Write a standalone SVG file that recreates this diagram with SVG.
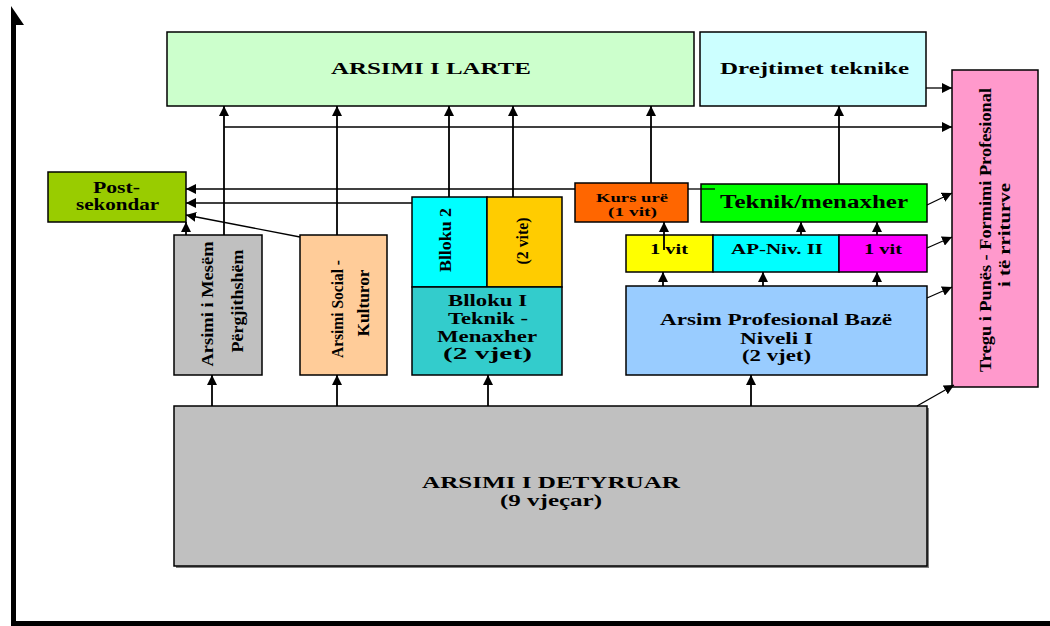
<svg xmlns="http://www.w3.org/2000/svg" width="1050" height="626" viewBox="0 0 1050 626">
<style>
.box{stroke:#000;stroke-width:1.5}
.t{font-family:"Liberation Serif","Times New Roman",serif;font-weight:bold;fill:#000}
.c{stroke:#000;stroke-width:1.8;fill:none;marker-end:url(#ah)}
.h{stroke:#000;stroke-width:1.3;fill:none;marker-end:url(#ah)}
.p{stroke:#000;stroke-width:1.3;fill:none}
</style>
<defs>
<marker id="ah" markerUnits="userSpaceOnUse" markerWidth="11" markerHeight="10" refX="10" refY="5" orient="auto">
<path d="M0,0 L10,5 L0,10 z" fill="#000"/>
</marker>
</defs>
<rect width="1050" height="626" fill="#fff"/>
<g id="frame">
<rect x="11" y="22" width="5" height="604" fill="#000"/>
<rect x="11" y="621" width="1039" height="5" fill="#000"/>
<polygon points="11,6 24,25 11,25" fill="#000"/>
</g>
<g id="nodes">
<g id="arsimi-larte"><rect class="box" x="167" y="32" width="527" height="74" fill="#CCFFCC"/><text class="t" x="331" y="74" font-size="16" textLength="200" lengthAdjust="spacingAndGlyphs">ARSIMI I LARTE</text></g>
<g id="drejtimet"><rect class="box" x="700" y="32" width="226" height="74" fill="#CCFFFF"/><text class="t" x="720" y="74" font-size="16" textLength="189" lengthAdjust="spacingAndGlyphs">Drejtimet teknike</text></g>
<g id="tregu"><rect class="box" x="952" y="70" width="86" height="317" fill="#FF99CC"/>
<text class="t" transform="translate(985,230) rotate(-90)" y="6" text-anchor="middle" font-size="17" textLength="284" lengthAdjust="spacingAndGlyphs">Tregu i Punës  -  Formimi Profesional</text>
<text class="t" transform="translate(1004,235) rotate(-90)" y="6" text-anchor="middle" font-size="17" textLength="104" lengthAdjust="spacingAndGlyphs">i të rriturve</text></g>
<g id="post-sekondar"><rect class="box" x="48" y="172" width="138" height="50" fill="#99CC00"/><text class="t" x="93" y="193" font-size="16" textLength="47" lengthAdjust="spacingAndGlyphs">Post-</text><text class="t" x="76" y="210" font-size="16" textLength="83" lengthAdjust="spacingAndGlyphs">sekondar</text></g>
<g id="mesem"><rect class="box" x="174" y="235" width="88" height="140" fill="#C0C0C0"/>
<text class="t" transform="translate(207,304) rotate(-90)" y="6" text-anchor="middle" font-size="17" textLength="125" lengthAdjust="spacingAndGlyphs">Arsimi i Mesëm</text>
<text class="t" transform="translate(237,301) rotate(-90)" y="6" text-anchor="middle" font-size="17" textLength="103" lengthAdjust="spacingAndGlyphs">Përgjithshëm</text></g>
<g id="social"><rect class="box" x="300" y="235" width="87" height="140" fill="#FFCC99"/>
<text class="t" transform="translate(337,309) rotate(-90)" y="6" text-anchor="middle" font-size="17" textLength="98" lengthAdjust="spacingAndGlyphs">Arsimi Social -</text>
<text class="t" transform="translate(363,303) rotate(-90)" y="6" text-anchor="middle" font-size="17" textLength="67" lengthAdjust="spacingAndGlyphs">Kulturor</text></g>
<g id="blloku2"><rect class="box" x="412" y="197" width="75" height="90" fill="#00FFFF"/>
<text class="t" transform="translate(445,240) rotate(-90)" y="6" text-anchor="middle" font-size="17" textLength="64" lengthAdjust="spacingAndGlyphs">Blloku 2</text></g>
<g id="dy-vite"><rect class="box" x="487" y="197" width="75" height="90" fill="#FFCC00"/>
<text class="t" transform="translate(522,241) rotate(-90)" y="6" text-anchor="middle" font-size="17" textLength="47" lengthAdjust="spacingAndGlyphs">(2 vite)</text></g>
<g id="blloku1"><rect class="box" x="412" y="287" width="150" height="88" fill="#33CCCC"/>
<text class="t" x="448" y="306" font-size="16" textLength="79" lengthAdjust="spacingAndGlyphs">Blloku I</text>
<text class="t" x="448" y="324" font-size="16" textLength="80" lengthAdjust="spacingAndGlyphs">Teknik -</text>
<text class="t" x="437" y="342" font-size="16" textLength="100" lengthAdjust="spacingAndGlyphs">Menaxher</text>
<text class="t" x="443" y="359" font-size="16" textLength="89" lengthAdjust="spacingAndGlyphs">(2 vjet)</text></g>
<g id="kurs-ure"><rect class="box" x="575" y="183" width="113" height="39" fill="#FF6600"/>
<text class="t" x="596" y="202" font-size="13" textLength="72" lengthAdjust="spacingAndGlyphs">Kurs urë</text>
<text class="t" x="608" y="216" font-size="13" textLength="49" lengthAdjust="spacingAndGlyphs">(1 vit)</text></g>
<g id="teknik-menaxher"><rect class="box" x="701" y="184" width="226" height="38" fill="#00FF00"/>
<text class="t" x="720" y="208" font-size="18" textLength="188" lengthAdjust="spacingAndGlyphs">Teknik/menaxher</text></g>
<g id="vit1-a"><rect class="box" x="626" y="235" width="87" height="37" fill="#FFFF00"/>
<text class="t" x="650" y="254" font-size="14" textLength="38" lengthAdjust="spacingAndGlyphs">1 vit</text></g>
<g id="ap-niv2"><rect class="box" x="713" y="235" width="126" height="37" fill="#00FFFF"/>
<text class="t" x="731" y="254" font-size="14" textLength="92" lengthAdjust="spacingAndGlyphs">AP-Niv. II</text></g>
<g id="vit1-b"><rect class="box" x="839" y="235" width="88" height="37" fill="#FF00FF"/>
<text class="t" x="864" y="254" font-size="14" textLength="38" lengthAdjust="spacingAndGlyphs">1 vit</text></g>
<g id="ap-baze"><rect class="box" x="626" y="286" width="301" height="89" fill="#99CCFF"/>
<text class="t" x="660" y="325" font-size="16" textLength="232" lengthAdjust="spacingAndGlyphs">Arsim Profesional Bazë</text>
<text class="t" x="740" y="344" font-size="16" textLength="73" lengthAdjust="spacingAndGlyphs">Niveli I</text>
<text class="t" x="742" y="361" font-size="16" textLength="69" lengthAdjust="spacingAndGlyphs">(2 vjet)</text></g>
<g id="detyruar"><rect x="176" y="408" width="753" height="160" fill="#808080"/><rect class="box" x="174" y="406" width="753" height="160" fill="#C0C0C0"/>
<text class="t" x="422" y="488" font-size="16" textLength="258" lengthAdjust="spacingAndGlyphs">ARSIMI I DETYRUAR</text>
<text class="t" x="500" y="506" font-size="16" textLength="102" lengthAdjust="spacingAndGlyphs">(9 vjeçar)</text></g>
</g>
<g id="connectors">
<path class="c" d="M212,406 V375"/>
<path class="c" d="M337,406 V375"/>
<path class="c" d="M488,406 V375"/>
<path class="c" d="M751,406 V375"/>
<path class="c" d="M186,235 V222"/>
<path class="c" d="M224,235 V106"/>
<path class="h" d="M300,237 L186,215"/>
<path class="c" d="M337,235 V106"/>
<path class="h" d="M224,127 H952"/>
<path class="p" d="M715,189 H688"/>
<path class="h" d="M575,189 H186"/>
<path class="h" d="M412,203 H186"/>
<path class="c" d="M449,197 V106"/>
<path class="c" d="M513,197 V106"/>
<path class="c" d="M651,183 V106"/>
<path class="c" d="M839,184 V106"/>
<path class="c" d="M664,250 V222"/>
<path class="c" d="M801,235 V222"/>
<path class="c" d="M877,235 V222"/>
<path class="c" d="M663,286 V272"/>
<path class="c" d="M763,286 V272"/>
<path class="c" d="M877,286 V272"/>
<path class="h" d="M926,88 H952"/>
<path class="h" d="M927,205 L952,193"/>
<path class="h" d="M927,248 L952,237"/>
<path class="h" d="M927,298 L952,287"/>
<path class="h" d="M917,406 L954,385"/>
</g>
</svg>
